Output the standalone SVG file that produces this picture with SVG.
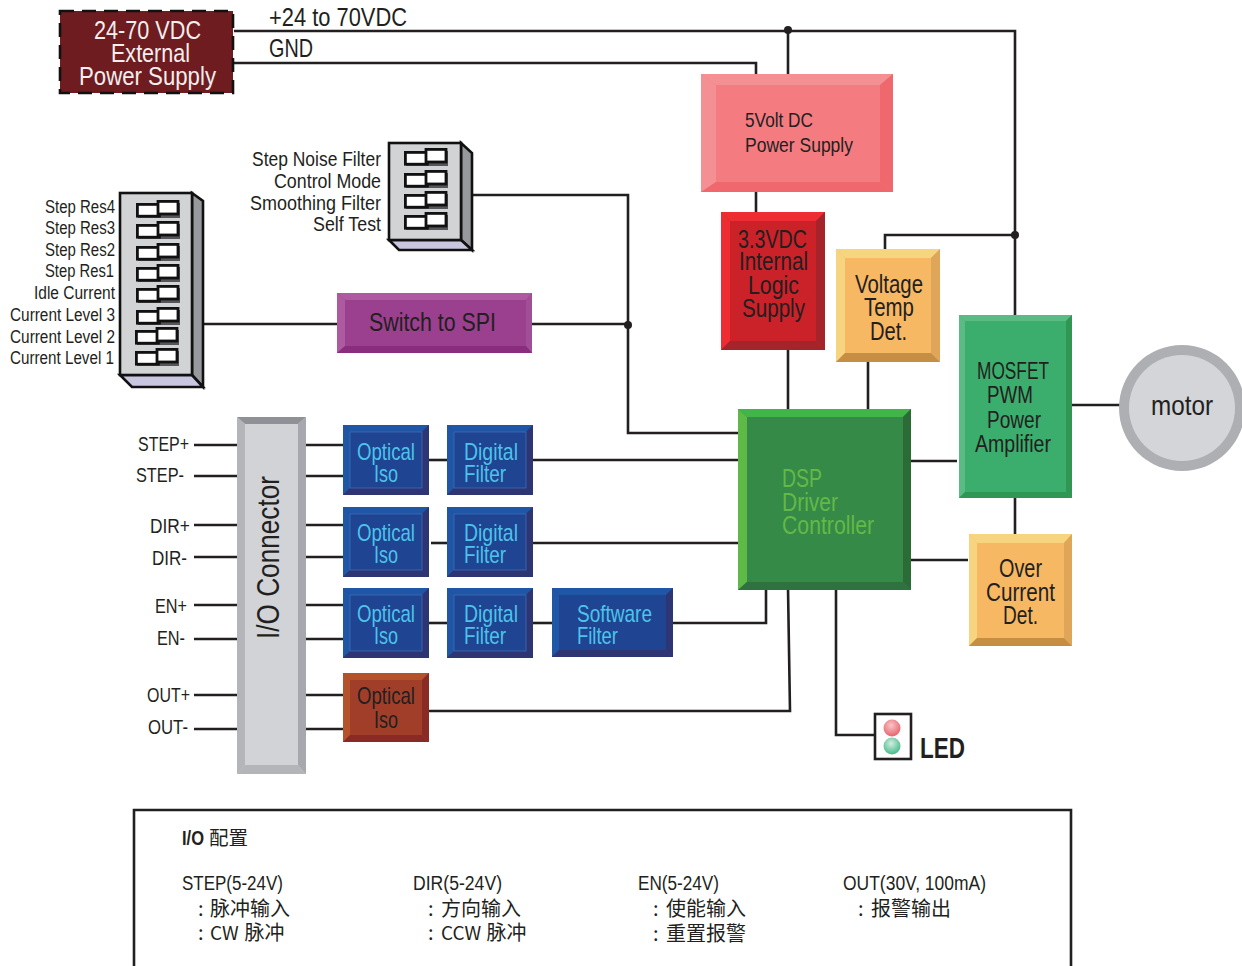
<svg xmlns="http://www.w3.org/2000/svg" width="1242" height="966" viewBox="0 0 1242 966">
<style>
text{font-family:"Liberation Sans","Noto Sans CJK SC",sans-serif;fill:#231f20}
.cjk{font-family:"Noto Sans CJK SC","Liberation Sans",sans-serif}
.ln{fill:none;stroke:#231f20;stroke-width:2.6}
.s18{font-size:18px}.s20{font-size:20px}.s21{font-size:21px}.s23{font-size:23px}.s24{font-size:24px}.s25{font-size:25px}
.cy{fill:#4dc3ea}
.gn{fill:#63b947}
.wh{fill:#f4eeee}
.body{fill:#d1d3d5;stroke:#111;stroke-width:2.6}
.side{fill:#97999c;stroke:#111;stroke-width:2.6}
.bot{fill:#c9c6e0;stroke:#111;stroke-width:2.6}
</style>
<defs>
<g id="sw">
<rect x="2" y="3" width="42" height="15" fill="#55565a"/>
<rect x="1.4" y="4.4" width="22" height="11.8" fill="#fff" stroke="#111" stroke-width="2.8"/>
<rect x="22" y="1.4" width="20" height="12.6" fill="#fff" stroke="#111" stroke-width="2.8"/>
</g>
<g id="blue">
<rect width="86" height="70" fill="#1f4491"/>
<polygon points="0,0 86,0 79,7 7,7" fill="#1f56a5"/>
<polygon points="0,0 7,7 7,63 0,70" fill="#1f56a5"/>
<polygon points="86,0 86,70 79,63 79,7" fill="#2d3573"/>
<polygon points="0,70 7,63 79,63 86,70" fill="#2d3573"/>
<rect x="7" y="7" width="72" height="56" fill="none" stroke="#3f6db5" stroke-width="0.8"/>
</g>
<radialGradient id="gr" cx="45%" cy="35%" r="65%"><stop offset="0" stop-color="#f8c6c8"/><stop offset="1" stop-color="#e8636d"/></radialGradient>
<radialGradient id="gg" cx="45%" cy="35%" r="65%"><stop offset="0" stop-color="#d2eee0"/><stop offset="1" stop-color="#45b98c"/></radialGradient>
</defs>

<g id="connectors" class="ln">
<path d="M234 31H1015V315"/>
<path d="M788 31V74"/>
<path d="M234 63H756V75"/>
<path d="M756 192V212"/>
<path d="M788 350V409"/>
<path d="M885 249V235H1015"/>
<path d="M868 362V409"/>
<path d="M1015 498V534"/>
<path d="M911 461H957"/>
<path d="M911 560H968"/>
<path d="M1072 405H1120"/>
<path d="M472 195H628V433H738"/>
<path d="M204 324H337"/>
<path d="M532 324H628"/>
<path d="M836 589V735H875"/>
<path d="M788 588L790 711H429"/>
<path d="M766 590V623H673"/>
<path d="M533 460H738"/>
<path d="M533 543H738"/>
<path d="M429 460H447"/>
<path d="M431 543H447"/>
<path d="M429 623H447"/>
<path d="M533 623H552"/>
<path d="M194 445H237M306 445H343"/>
<path d="M194 476H237M306 476H343"/>
<path d="M194 525H237M306 525H343"/>
<path d="M194 557H237M306 557H343"/>
<path d="M194 605H237M306 605H343"/>
<path d="M194 639H237M306 639H343"/>
<path d="M194 695H237M306 695H343"/>
<path d="M194 729H237M306 729H343"/>
<circle cx="788" cy="30" r="4" fill="#231f20" stroke="none"/>
<circle cx="1015" cy="235" r="4" fill="#231f20" stroke="none"/>
<circle cx="628" cy="325" r="4" fill="#231f20" stroke="none"/>
</g>

<g id="external-supply">
<rect x="60" y="11" width="173" height="82" fill="#6e1c1f" stroke="#111" stroke-width="2.6" stroke-dasharray="14 8"/>
<text class="s25 wh" x="94" y="39" textLength="107" lengthAdjust="spacingAndGlyphs">24-70 VDC</text>
<text class="s25 wh" x="111" y="62" textLength="79" lengthAdjust="spacingAndGlyphs">External</text>
<text class="s25 wh" x="79" y="85" textLength="137" lengthAdjust="spacingAndGlyphs">Power Supply</text>
</g>
<g id="label-24v"><text class="s25" x="269" y="26" textLength="138" lengthAdjust="spacingAndGlyphs">+24 to 70VDC</text></g>
<g id="label-gnd"><text class="s25" x="269" y="57" textLength="44" lengthAdjust="spacingAndGlyphs">GND</text></g>

<g id="five-volt">
<rect x="701" y="74" width="192" height="118" fill="#f47b80"/>
<polygon points="701,74 893,74 880,85 716,85" fill="#f48f94"/>
<polygon points="701,74 716,85 716,182 701,192" fill="#f48f94"/>
<polygon points="893,74 893,192 880,182 880,85" fill="#ef686d"/>
<polygon points="701,192 716,182 880,182 893,192" fill="#ef686d"/>
<text class="s21" x="745" y="127" textLength="68" lengthAdjust="spacingAndGlyphs">5Volt DC</text>
<text class="s21" x="745" y="152" textLength="108" lengthAdjust="spacingAndGlyphs">Power Supply</text>
</g>

<g id="logic-supply">
<rect x="721" y="212" width="104" height="138" fill="#cb2128"/>
<polygon points="721,212 825,212 816,221 730,221" fill="#ee2d33"/>
<polygon points="721,212 730,221 730,341 721,350" fill="#ee2d33"/>
<polygon points="825,212 825,350 816,341 816,221" fill="#a5242a"/>
<polygon points="721,350 730,341 816,341 825,350" fill="#a5242a"/>
<text class="s25" x="738" y="248" textLength="69" lengthAdjust="spacingAndGlyphs">3.3VDC</text>
<text class="s25" x="739" y="270" textLength="69" lengthAdjust="spacingAndGlyphs">Internal</text>
<text class="s25" x="748" y="294" textLength="51" lengthAdjust="spacingAndGlyphs">Logic</text>
<text class="s25" x="742" y="317" textLength="63" lengthAdjust="spacingAndGlyphs">Supply</text>
</g>

<g id="voltage-temp">
<rect x="836" y="249" width="104" height="113" fill="#f7b864"/>
<polygon points="836,249 940,249 931,258 845,258" fill="#f7d480"/>
<polygon points="836,249 845,258 845,353 836,362" fill="#f7d480"/>
<polygon points="940,249 940,362 931,353 931,258" fill="#dfa65a"/>
<polygon points="836,362 845,353 931,353 940,362" fill="#c68e42"/>
<text class="s25" x="855" y="293" textLength="68" lengthAdjust="spacingAndGlyphs">Voltage</text>
<text class="s25" x="864" y="316" textLength="50" lengthAdjust="spacingAndGlyphs">Temp</text>
<text class="s25" x="870" y="340" textLength="37" lengthAdjust="spacingAndGlyphs">Det.</text>
</g>

<g id="mosfet">
<rect x="959" y="315" width="113" height="183" fill="#3bad6d"/>
<polygon points="959,315 1072,315 1066,321 965,321" fill="#5abb84"/>
<polygon points="959,315 965,321 965,492 959,498" fill="#5abb84"/>
<polygon points="1072,315 1072,498 1066,492 1066,321" fill="#2f9654"/>
<polygon points="959,498 965,492 1066,492 1072,498" fill="#2f9654"/>
<text class="s23" x="977" y="379" textLength="72" lengthAdjust="spacingAndGlyphs">MOSFET</text>
<text class="s23" x="987" y="403" textLength="46" lengthAdjust="spacingAndGlyphs">PWM</text>
<text class="s23" x="987" y="428" textLength="54" lengthAdjust="spacingAndGlyphs">Power</text>
<text class="s23" x="975" y="452" textLength="76" lengthAdjust="spacingAndGlyphs">Amplifier</text>
</g>

<g id="dsp">
<rect x="738" y="409" width="173" height="181" fill="#358a48"/>
<polygon points="738,409 911,409 903,417 747,417" fill="#42b549"/>
<polygon points="738,409 747,417 747,582 738,590" fill="#5eb946"/>
<polygon points="911,409 911,590 903,582 903,417" fill="#2b6b36"/>
<polygon points="738,590 747,582 903,582 911,590" fill="#2f7240"/>
<text class="s25 gn" x="782" y="487" textLength="40" lengthAdjust="spacingAndGlyphs">DSP</text>
<text class="s25 gn" x="782" y="511" textLength="56" lengthAdjust="spacingAndGlyphs">Driver</text>
<text class="s25 gn" x="782" y="534" textLength="92" lengthAdjust="spacingAndGlyphs">Controller</text>
</g>

<g id="over-current">
<rect x="969" y="534" width="103" height="112" fill="#f7b864"/>
<polygon points="969,534 1072,534 1064,543 977,543" fill="#f7d480"/>
<polygon points="969,534 977,543 977,638 969,646" fill="#f7d480"/>
<polygon points="1072,534 1072,646 1064,638 1064,543" fill="#dfa65a"/>
<polygon points="969,646 977,638 1064,638 1072,646" fill="#c68e42"/>
<text class="s25" x="999" y="577" textLength="43" lengthAdjust="spacingAndGlyphs">Over</text>
<text class="s25" x="986" y="601" textLength="69" lengthAdjust="spacingAndGlyphs">Current</text>
<text class="s25" x="1003" y="624" textLength="35" lengthAdjust="spacingAndGlyphs">Det.</text>
</g>

<g id="motor">
<circle cx="1182" cy="408" r="63" fill="#adafb3"/>
<circle cx="1182" cy="408" r="53" fill="#d4d5d8"/>
<text x="1151" y="415" font-size="28" textLength="62" lengthAdjust="spacingAndGlyphs">motor</text>
</g>

<g id="switch-spi">
<rect x="337" y="293" width="195" height="60" fill="#9b3f8f"/>
<polygon points="337,293 532,293 526,300 345,300" fill="#ae5aa0"/>
<polygon points="337,293 345,300 345,346 337,353" fill="#ae5aa0"/>
<polygon points="532,293 532,353 526,346 526,300" fill="#a04f96"/>
<polygon points="337,353 345,346 526,346 532,353" fill="#8b2d7f"/>
<text x="369" y="331" font-size="26" textLength="127" lengthAdjust="spacingAndGlyphs">Switch to SPI</text>
</g>

<g id="dip-eight">
<polygon class="side" points="192,193 203,201 203,387 192,375"/>
<polygon class="bot" points="120,375 192,375 203,387 132,387"/>
<rect class="body" x="120" y="193" width="72" height="182"/>
<use href="#sw" x="136" y="200"/><use href="#sw" x="136" y="221"/><use href="#sw" x="136" y="243"/><use href="#sw" x="136" y="264"/>
<use href="#sw" x="136" y="285"/><use href="#sw" x="136" y="307"/><use href="#sw" x="135" y="327"/><use href="#sw" x="135" y="348"/>
<text class="s18" x="45" y="213" textLength="70" lengthAdjust="spacingAndGlyphs">Step Res4</text>
<text class="s18" x="45" y="234" textLength="70" lengthAdjust="spacingAndGlyphs">Step Res3</text>
<text class="s18" x="45" y="256" textLength="70" lengthAdjust="spacingAndGlyphs">Step Res2</text>
<text class="s18" x="45" y="277" textLength="69" lengthAdjust="spacingAndGlyphs">Step Res1</text>
<text class="s18" x="34" y="299" textLength="81" lengthAdjust="spacingAndGlyphs">Idle Current</text>
<text class="s18" x="10" y="321" textLength="105" lengthAdjust="spacingAndGlyphs">Current Level 3</text>
<text class="s18" x="10" y="343" textLength="105" lengthAdjust="spacingAndGlyphs">Current Level 2</text>
<text class="s18" x="10" y="364" textLength="104" lengthAdjust="spacingAndGlyphs">Current Level 1</text>
</g>

<g id="dip-four">
<polygon class="side" points="461,143 472,153 472,250 461,240"/>
<polygon class="bot" points="389,240 461,240 472,250 399,250"/>
<rect class="body" x="389" y="143" width="72" height="97"/>
<use href="#sw" x="404" y="148"/><use href="#sw" x="404" y="170"/><use href="#sw" x="404" y="191"/><use href="#sw" x="404" y="212"/>
<text class="s20" x="252" y="166" textLength="129" lengthAdjust="spacingAndGlyphs">Step Noise Filter</text>
<text class="s20" x="274" y="188" textLength="107" lengthAdjust="spacingAndGlyphs">Control Mode</text>
<text class="s20" x="250" y="210" textLength="131" lengthAdjust="spacingAndGlyphs">Smoothing Filter</text>
<text class="s20" x="313" y="231" textLength="68" lengthAdjust="spacingAndGlyphs">Self Test</text>
</g>

<g id="io-connector">
<rect x="237" y="417" width="69" height="357" fill="#d1d3d6"/>
<polygon points="237,417 306,417 298,424 245,424" fill="#8f9196"/>
<polygon points="237,417 245,424 245,765 237,774" fill="#b3b5b9"/>
<polygon points="306,417 306,774 298,765 298,424" fill="#a6a8ad"/>
<polygon points="237,774 245,765 298,765 306,774" fill="#b3b5b9"/>
<text transform="translate(279 639) rotate(-90)" font-size="31" textLength="163" lengthAdjust="spacingAndGlyphs">I/O Connector</text>
<text class="s21" x="138" y="451" textLength="51" lengthAdjust="spacingAndGlyphs">STEP+</text>
<text class="s21" x="136" y="482" textLength="48" lengthAdjust="spacingAndGlyphs">STEP-</text>
<text class="s21" x="150" y="533" textLength="40" lengthAdjust="spacingAndGlyphs">DIR+</text>
<text class="s21" x="152" y="565" textLength="35" lengthAdjust="spacingAndGlyphs">DIR-</text>
<text class="s21" x="155" y="613" textLength="32" lengthAdjust="spacingAndGlyphs">EN+</text>
<text class="s21" x="157" y="645" textLength="28" lengthAdjust="spacingAndGlyphs">EN-</text>
<text class="s21" x="147" y="702" textLength="43" lengthAdjust="spacingAndGlyphs">OUT+</text>
<text class="s21" x="148" y="734" textLength="40" lengthAdjust="spacingAndGlyphs">OUT-</text>
</g>

<g id="optical-1"><use href="#blue" x="343" y="425"/>
<text class="s24 cy" x="357" y="460" textLength="58" lengthAdjust="spacingAndGlyphs">Optical</text>
<text class="s24 cy" x="374" y="482" textLength="24" lengthAdjust="spacingAndGlyphs">Iso</text></g>
<g id="digital-1"><use href="#blue" x="447" y="425"/>
<text class="s24 cy" x="464" y="460" textLength="54" lengthAdjust="spacingAndGlyphs">Digital</text>
<text class="s24 cy" x="464" y="482" textLength="42" lengthAdjust="spacingAndGlyphs">Filter</text></g>
<g id="optical-2"><use href="#blue" x="343" y="507"/>
<text class="s24 cy" x="357" y="541" textLength="58" lengthAdjust="spacingAndGlyphs">Optical</text>
<text class="s24 cy" x="374" y="563" textLength="24" lengthAdjust="spacingAndGlyphs">Iso</text></g>
<g id="digital-2"><use href="#blue" x="447" y="507"/>
<text class="s24 cy" x="464" y="541" textLength="54" lengthAdjust="spacingAndGlyphs">Digital</text>
<text class="s24 cy" x="464" y="563" textLength="42" lengthAdjust="spacingAndGlyphs">Filter</text></g>
<g id="optical-3"><use href="#blue" x="343" y="588"/>
<text class="s24 cy" x="357" y="622" textLength="58" lengthAdjust="spacingAndGlyphs">Optical</text>
<text class="s24 cy" x="374" y="644" textLength="24" lengthAdjust="spacingAndGlyphs">Iso</text></g>
<g id="digital-3"><use href="#blue" x="447" y="588"/>
<text class="s24 cy" x="464" y="622" textLength="54" lengthAdjust="spacingAndGlyphs">Digital</text>
<text class="s24 cy" x="464" y="644" textLength="42" lengthAdjust="spacingAndGlyphs">Filter</text></g>
<g id="software-filter">
<rect x="552" y="588" width="121" height="69" fill="#1f4491"/>
<polygon points="552,588 673,588 666,595 559,595" fill="#1f56a5"/>
<polygon points="552,588 559,595 559,650 552,657" fill="#1f56a5"/>
<polygon points="673,588 673,657 666,650 666,595" fill="#2d3573"/>
<polygon points="552,657 559,650 666,650 673,657" fill="#2d3573"/>
<text class="s24 cy" x="577" y="622" textLength="75" lengthAdjust="spacingAndGlyphs">Software</text>
<text class="s24 cy" x="577" y="644" textLength="41" lengthAdjust="spacingAndGlyphs">Filter</text>
</g>
<g id="optical-out">
<rect x="343" y="673" width="86" height="69" fill="#a13e2a"/>
<polygon points="343,673 429,673 422,680 350,680" fill="#b4522b"/>
<polygon points="343,673 350,680 350,735 343,742" fill="#b4522b"/>
<polygon points="429,673 429,742 422,735 422,680" fill="#8a2a24"/>
<polygon points="343,742 350,735 422,735 429,742" fill="#8a2a24"/>
<text class="s24" x="357" y="704" textLength="58" lengthAdjust="spacingAndGlyphs">Optical</text>
<text class="s24" x="374" y="728" textLength="24" lengthAdjust="spacingAndGlyphs">Iso</text>
</g>

<g id="led">
<rect x="875" y="714" width="36" height="45" fill="#fff" stroke="#231f20" stroke-width="2.6"/>
<circle cx="892" cy="728" r="8.5" fill="url(#gr)"/>
<circle cx="892" cy="746" r="8.5" fill="url(#gg)"/>
<text x="920" y="758" font-size="29" font-weight="700" textLength="45" lengthAdjust="spacingAndGlyphs">LED</text>
</g>

<g id="io-table">
<path d="M134 966V810H1071V966" fill="none" stroke="#231f20" stroke-width="2.6"/>
<text x="182" y="845" font-size="20" font-weight="700" textLength="22" lengthAdjust="spacingAndGlyphs">I/O</text>
<text class="cjk" x="209" y="845" font-size="19.5">配置</text>
<text class="s20" x="182" y="890" textLength="101" lengthAdjust="spacingAndGlyphs">STEP(5-24V)</text>
<text class="cjk" x="198" y="916" font-size="20">:<tspan x="210">脉冲输入</tspan></text>
<text class="cjk" x="198" y="940" font-size="20">:<tspan x="210" font-size="19">CW</tspan><tspan x="244.500">脉冲</tspan></text>
<text class="s20" x="413" y="890" textLength="89" lengthAdjust="spacingAndGlyphs">DIR(5-24V)</text>
<text class="cjk" x="428" y="916" font-size="20">:<tspan x="441">方向输入</tspan></text>
<text class="cjk" x="428" y="940" font-size="20">:<tspan x="441" font-size="19">CCW</tspan><tspan x="486.500">脉冲</tspan></text>
<text class="s20" x="638" y="890" textLength="81" lengthAdjust="spacingAndGlyphs">EN(5-24V)</text>
<text class="cjk" x="653" y="916" font-size="20">:<tspan x="666">使能输入</tspan></text>
<text class="cjk" x="653" y="941" font-size="20">:<tspan x="666">重置报警</tspan></text>
<text class="s20" x="843" y="890" textLength="143" lengthAdjust="spacingAndGlyphs">OUT(30V, 100mA)</text>
<text class="cjk" x="858" y="916" font-size="20">:<tspan x="871">报警输出</tspan></text>
</g>
</svg>
